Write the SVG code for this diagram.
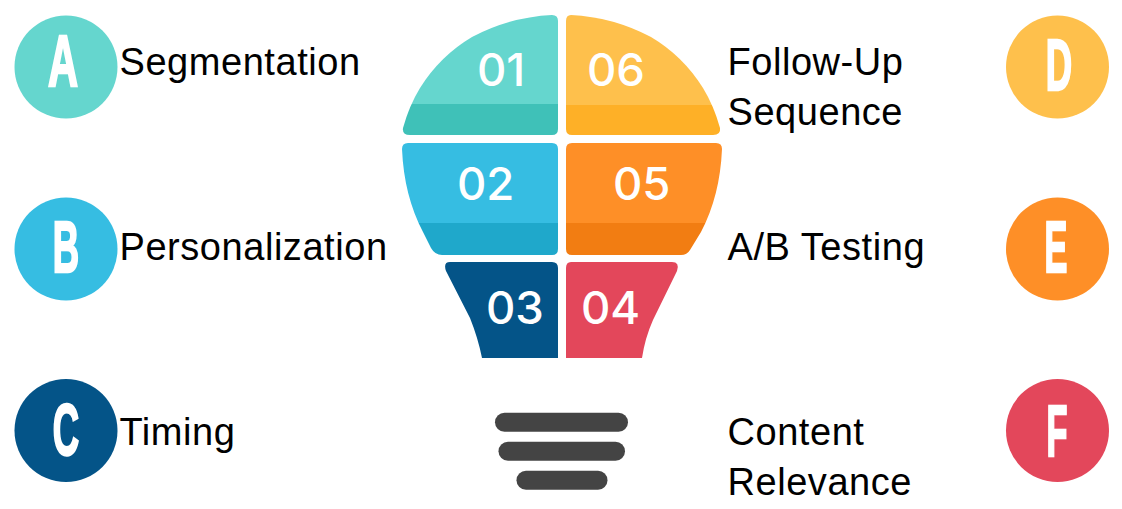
<svg xmlns="http://www.w3.org/2000/svg" width="1122" height="509" viewBox="0 0 1122 509">
<style>
.t{font-family:"Liberation Sans",Arial,sans-serif;font-size:38px;letter-spacing:.55px;fill:#000}
.n{font-family:Inter,"Noto Sans",sans-serif;font-size:45.500px;font-weight:500;fill:#fff}
.l{font-family:"Liberation Sans",Arial,sans-serif;font-size:73px;font-weight:700;fill:#fff;stroke:#fff;stroke-width:2.500px;text-anchor:middle}
.b{fill:#444}
</style>
<rect width="1122" height="509" fill="#fff"/>
<defs>
<clipPath id="c1"><path d="M552 15Q558 15 558 21V129Q558 135 552 135H410Q402 135 403 128Q409 106 420 88Q440 56 472 37Q510 17 552 15Z"/></clipPath>
<clipPath id="c6"><path d="M571 15Q566 15 566 21V129Q566 135 572 135H713Q721 135 720 128Q714 106 703 88Q683 56 651 37Q613 17 571 15Z"/></clipPath>
<clipPath id="c2"><path d="M408 143H552Q558 143 558 149V249Q558 255 552 255H442Q435 255 431 248L423 232Q404 196 402 149Q402 143 408 143Z"/></clipPath>
<clipPath id="c5"><path d="M572 143H716Q722 143 722 149Q720 196 701 232L690 250Q687 255 681 255H572Q566 255 566 249V149Q566 143 572 143Z"/></clipPath>
</defs>
<g id="bulb-01"><g clip-path="url(#c1)"><rect x="400" y="10" width="160" height="94" fill="#65d6ce"/><rect x="400" y="104" width="160" height="32" fill="#3fc1b8"/></g><text class="n" x="477" y="86">01</text></g>
<g id="bulb-06"><g clip-path="url(#c6)"><rect x="564" y="10" width="160" height="95" fill="#fec04c"/><rect x="564" y="105" width="160" height="31" fill="#feb027"/></g><text class="n" x="587" y="86">06</text></g>
<g id="bulb-02"><g clip-path="url(#c2)"><rect x="400" y="142" width="160" height="81" fill="#36bde2"/><rect x="400" y="223" width="160" height="33" fill="#1fa8cb"/></g><text class="n" x="457" y="200">02</text></g>
<g id="bulb-05"><g clip-path="url(#c5)"><rect x="564" y="142" width="160" height="81" fill="#fe8f27"/><rect x="564" y="223" width="160" height="33" fill="#f27d12"/></g><text class="n" x="613" y="200">05</text></g>
<g id="bulb-03"><path d="M450 262H552Q558 262 558 268V358H482Q478 338 470 318L446 271Q443 262 450 262Z" fill="#045488"/><text class="n" x="486" y="324">03</text></g>
<g id="bulb-04"><path d="M571 262H672Q680 262 677 271L653 320Q645 338 642 358H566V268Q566 262 571 262Z" fill="#e3475b"/><text class="n" x="581" y="324">04</text></g>
<g id="bulb-base">
<rect class="b" x="495" y="412.700" width="133" height="19" rx="9.500"/>
<rect class="b" x="498.500" y="441.700" width="126.500" height="19" rx="9.500"/>
<rect class="b" x="516.500" y="470.700" width="91" height="19" rx="9.500"/>
</g>
<g id="node-a"><circle cx="66" cy="67" r="51.500" fill="#65d6ce"/><text class="l" transform="translate(63 86) scale(.57 1)">A</text><text class="t" x="119.500" y="75">Segmentation</text></g>
<g id="node-b"><circle cx="66" cy="249" r="51.500" fill="#36bde2"/><text class="l" transform="translate(66 272) scale(.5 1)">B</text><text class="t" x="119.500" y="260">Personalization</text></g>
<g id="node-c"><circle cx="66" cy="430.500" r="51.500" fill="#045488"/><text class="l" transform="translate(66 455) scale(.5 1)">C</text><text class="t" x="119.500" y="445">Timing</text></g>
<g id="node-d"><circle cx="1057.500" cy="67" r="51.500" fill="#fec04c"/><text class="l" transform="translate(1059 90) scale(.5 1)">D</text><text class="t" x="727.500" y="75">Follow-Up</text><text class="t" x="727.500" y="125">Sequence</text></g>
<g id="node-e"><circle cx="1057.500" cy="249" r="51.500" fill="#fe8f27"/><text class="l" transform="translate(1056 272) scale(.47 1)">E</text><text class="t" x="727.500" y="260">A/B Testing</text></g>
<g id="node-f"><circle cx="1057.500" cy="430.500" r="51.500" fill="#e3475b"/><text class="l" transform="translate(1057 456) scale(.47 1)">F</text><text class="t" x="727.500" y="445">Content</text><text class="t" x="727.500" y="495">Relevance</text></g>
<g id="connectors"/>
</svg>
